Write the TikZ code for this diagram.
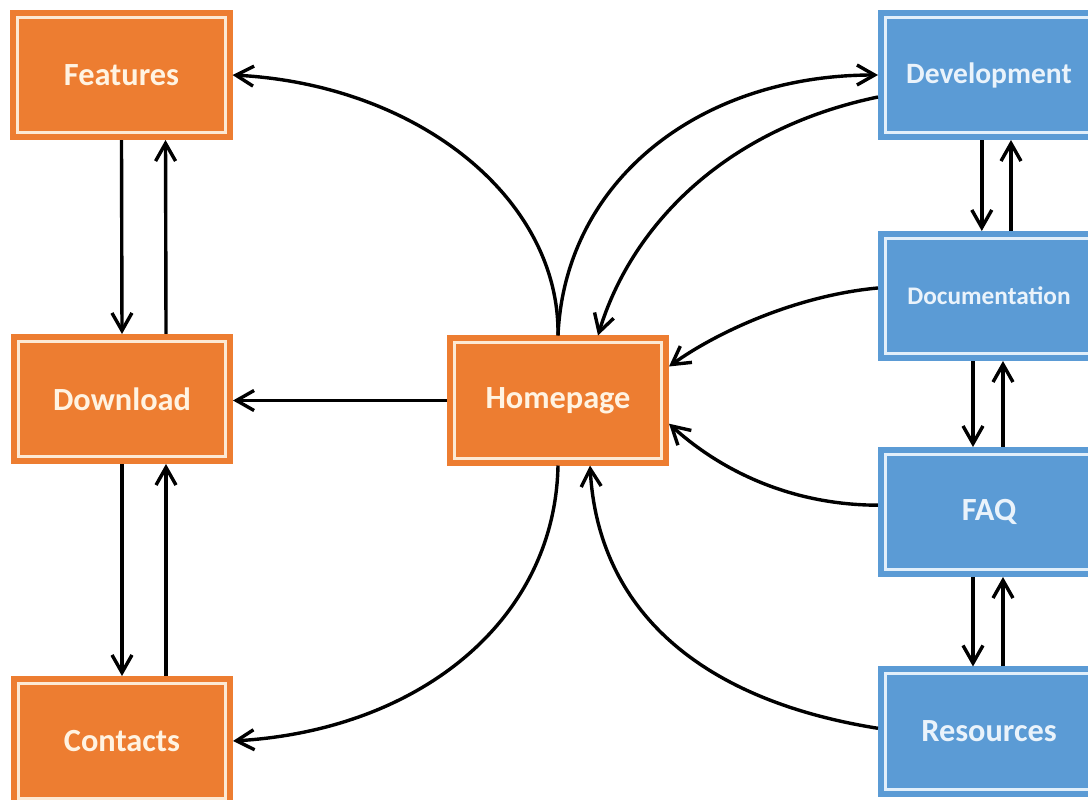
\documentclass[tikz,border=0pt]{standalone}
\usepackage{fontspec}
\setmainfont{Carlito}
\usetikzlibrary{arrows.meta,calc}

\definecolor{orangefill}{HTML}{ED7D31}
\definecolor{orangeline}{HTML}{FCE9D4}
\definecolor{orangetext}{HTML}{FFF3E2}
\definecolor{bluefill}{HTML}{5B9BD5}
\definecolor{blueline}{HTML}{E2EFFA}
\definecolor{bluetext}{HTML}{EAF3FB}

\tikzset{
  page/.style={rectangle, minimum width=5.175cm, minimum height=2.875cm,
    inner sep=0pt, outer sep=0.1875cm, line width=0.15cm, double distance=0.075cm,
    font=\fontsize{23}{27}\selectfont\bfseries},
  orangepage/.style={page, fill=orangefill, draw=orangefill, double=orangeline, text=orangetext},
  bluepage/.style={page, fill=bluefill, draw=bluefill, double=blueline, text=bluetext},
  link/.style={-{Straight Barb[length=0.44cm,width=0.5cm]}, line width=0.085cm, black}
}

\begin{document}
\begin{tikzpicture}[x=0.025cm, y=-0.025cm]
  \useasboundingbox (0,0) rectangle (1088,800);
  \clip (0,0) rectangle (1088,800);

  % site pages
  \node[orangepage] (feat) at (121.5,75)  {\raisebox{-1pt}{Features}};
  \node[orangepage] (down) at (122,399)   {\raisebox{-1pt}{Download}};
  \node[orangepage] (cont) at (122,741)   {\raisebox{-1pt}{Contacts}};
  \node[orangepage] (home) at (558,400.5) {\raisebox{-1pt}{Homepage}};

  \node[bluepage, font=\fontsize{21}{25}\selectfont\bfseries] (dev) at (989,75) {\raisebox{-1pt}{Development}};
  \node[bluepage, font=\fontsize{18}{21}\selectfont\bfseries] (doc) at (989,296) {Documentation};
  \node[bluepage] (faq) at (989,512)   {\raisebox{-1pt}{FAQ}};
  \node[bluepage] (res) at (989,731.5) {\raisebox{-1pt}{Resources}};

  % left column: up and down
  \draw[link] (feat.south) -- (down.north);
  \draw[link] ([xshift=1.1cm]down.north) -- ([xshift=1.1cm]feat.south);
  \draw[link] (down.south) -- (cont.north);
  \draw[link] ([xshift=1.1cm]cont.north) -- ([xshift=1.1cm]down.south);

  % right column: up and down
  \draw[link] ([xshift=-0.18cm]dev.south) -- ([xshift=-0.18cm]doc.north);
  \draw[link] ([xshift=0.55cm]doc.north) -- ([xshift=0.55cm]dev.south);
  \draw[link] ([xshift=-0.4cm]doc.south) -- ([xshift=-0.4cm]faq.north);
  \draw[link] ([xshift=0.35cm]faq.north) -- ([xshift=0.35cm]doc.south);
  \draw[link] ([xshift=-0.4cm]faq.south) -- ([xshift=-0.4cm]res.north);
  \draw[link] ([xshift=0.35cm]res.north) -- ([xshift=0.35cm]faq.south);

  % homepage links
  \draw[link] (home.west) -- (home.west -| down.east);
  \draw[link] (home.north) .. controls (560,200) and (420,85) .. (feat.east);
  \draw[link] (home.north) .. controls (565,180) and (700,75) .. (dev.west);
  \draw[link] ([yshift=-0.55cm]dev.west) .. controls (720,130) and (630,230) .. ([xshift=1cm]home.north);
  \draw[link] ([yshift=0.2cm]doc.west) .. controls (800,295) and (720,330) .. ([yshift=0.85cm]home.east);
  \draw[link] ([yshift=0.17cm]faq.west) .. controls (790,505) and (720,470) .. ([yshift=-0.58cm]home.east);
  \draw[link] ([yshift=0.08cm]res.west) .. controls (700,700) and (598,610) .. ([xshift=0.8cm]home.south);
  \draw[link] (home.south) .. controls (555,620) and (420,730) .. (cont.east);
\end{tikzpicture}
\end{document}
